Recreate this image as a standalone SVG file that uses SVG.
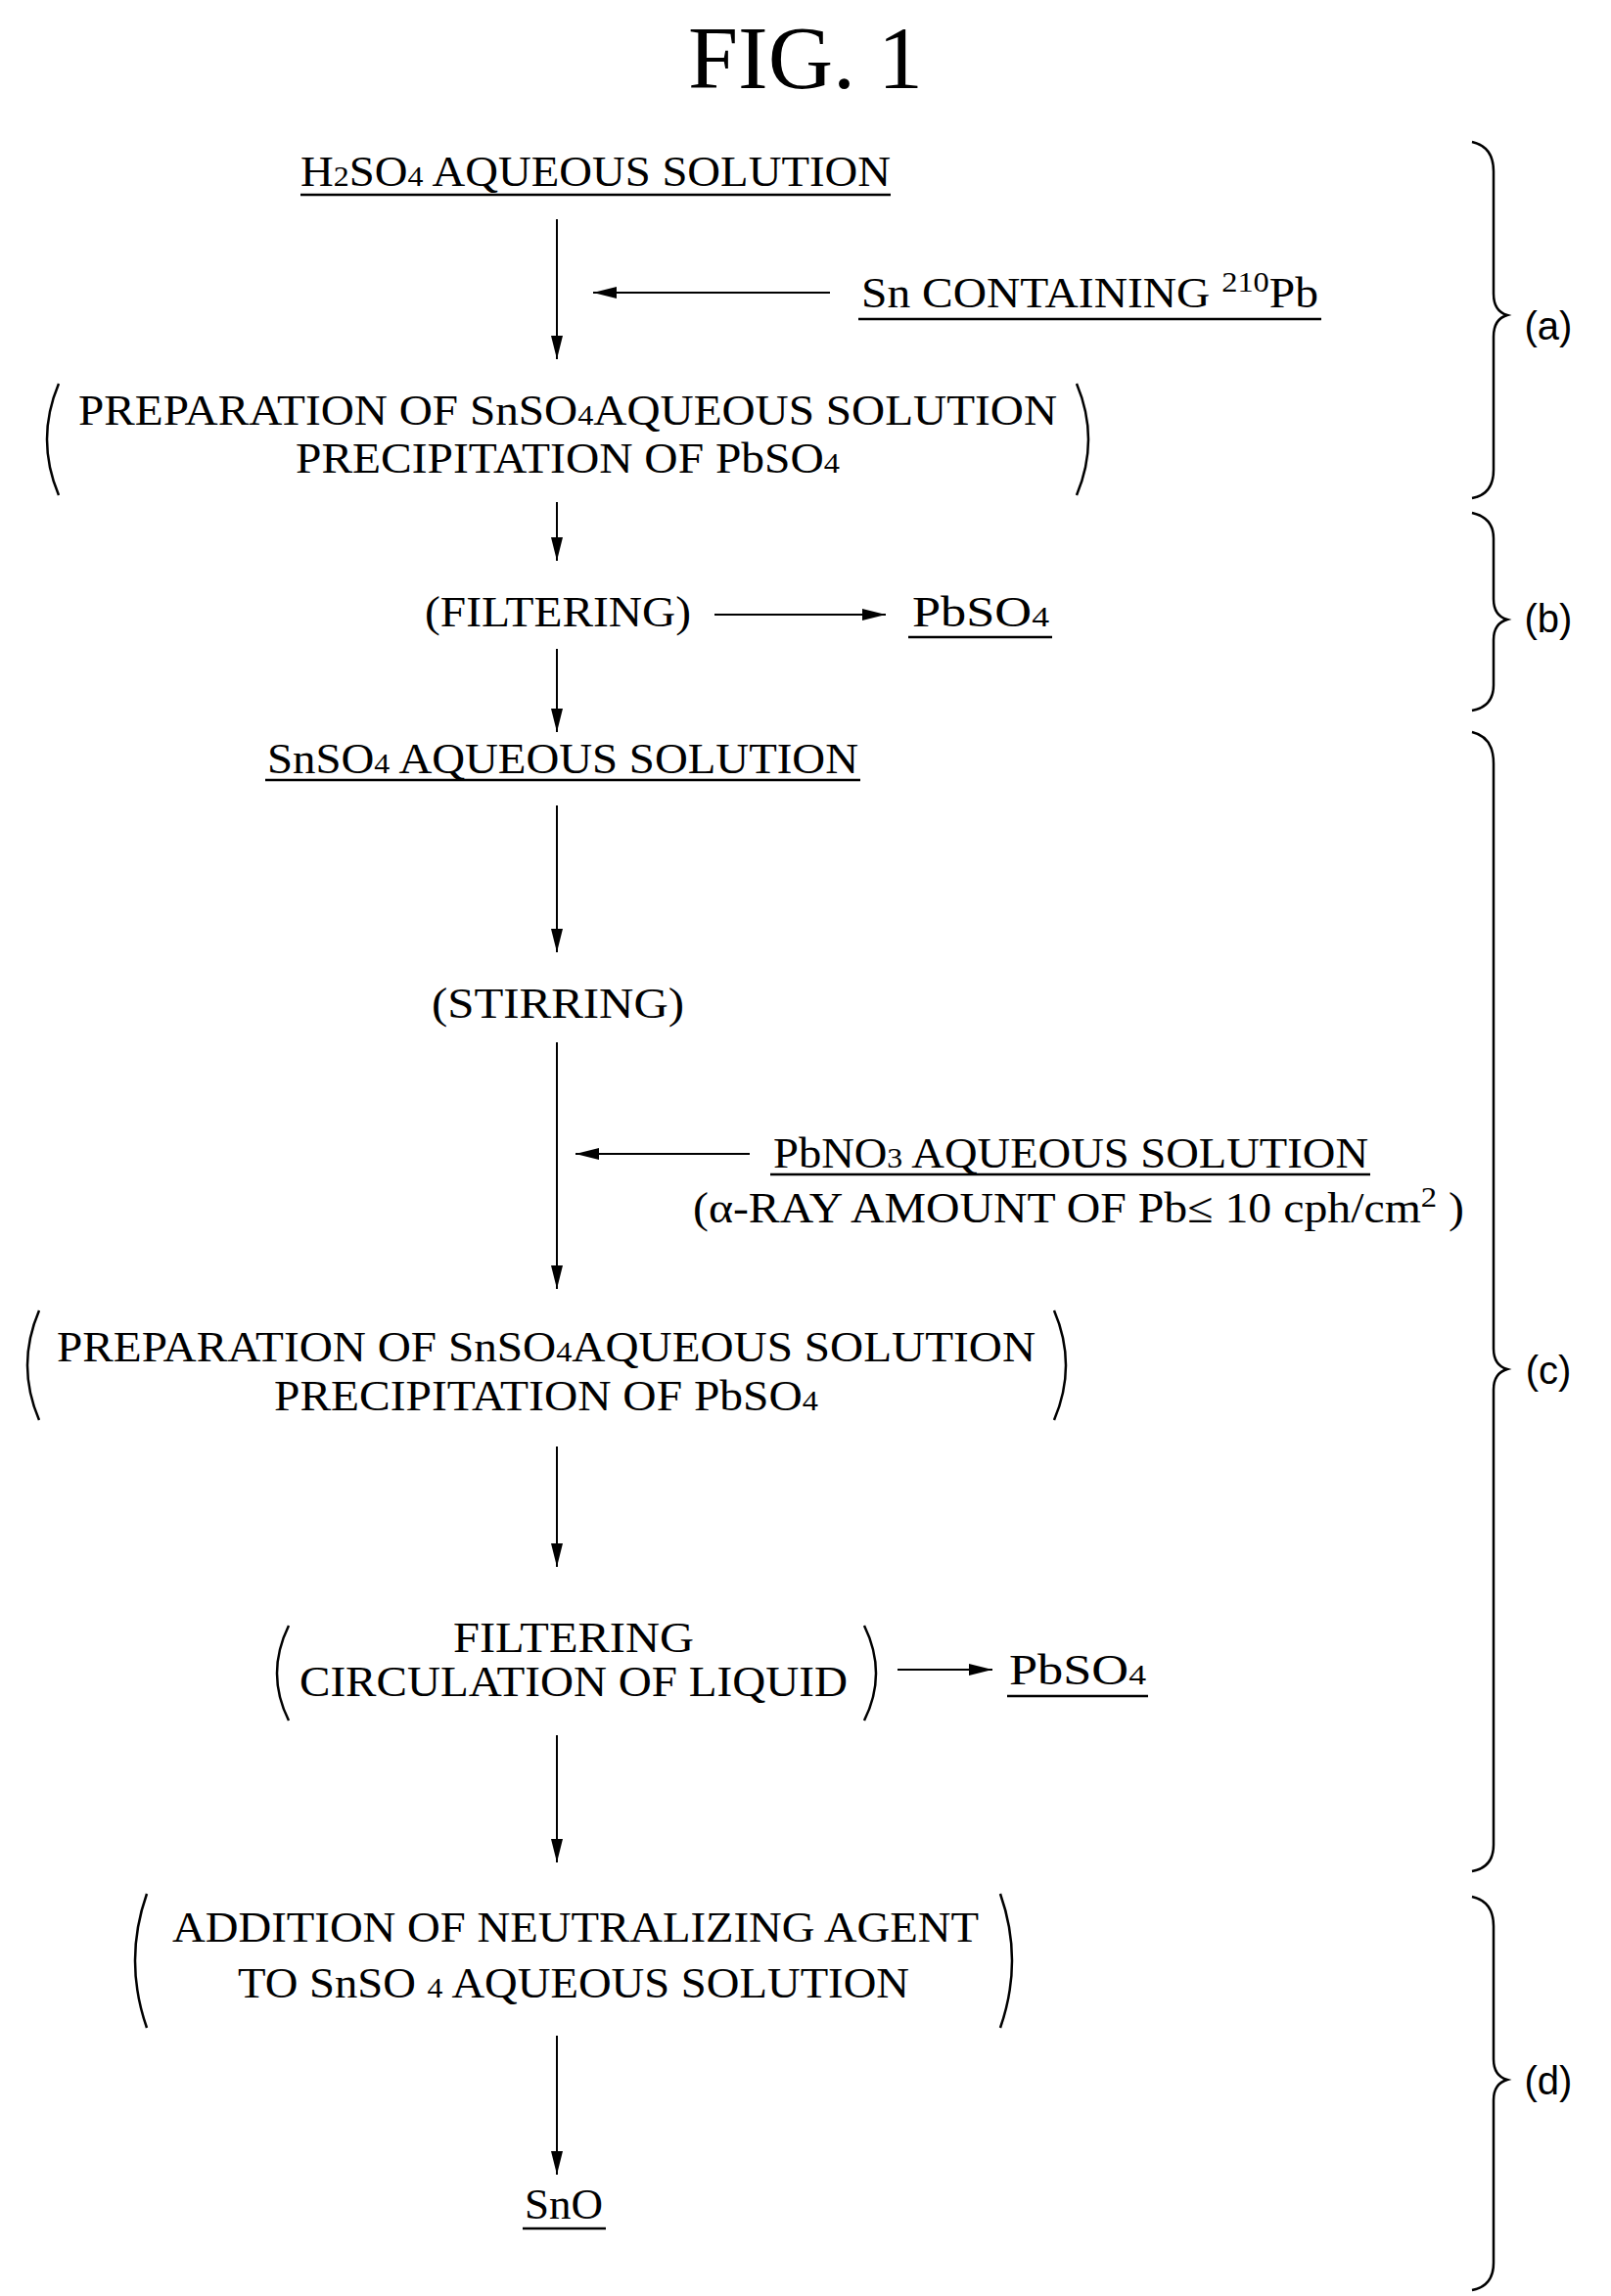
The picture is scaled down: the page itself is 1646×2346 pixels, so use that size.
<svg xmlns="http://www.w3.org/2000/svg" width="1646" height="2346" viewBox="0 0 1646 2346">
<style>
text{font-family:"Liberation Serif",serif;fill:#000}
.t{font-size:44px}
.s{font-family:"Liberation Sans",sans-serif;font-size:40px}
.ln{stroke:#000;stroke-width:2;fill:none}
.u{stroke:#000;stroke-width:2.5}
.p{stroke:#000;stroke-width:2.5;fill:none}
</style>
<defs>
<marker id="ah" viewBox="0 0 24 12" refX="24" refY="6" markerWidth="24" markerHeight="12" markerUnits="userSpaceOnUse" orient="auto"><path d="M0,0L24,6L0,12z" fill="#000"/></marker>
</defs>
<rect width="1646" height="2346" fill="#fff"/>
<text x="823" y="90" font-size="92" text-anchor="middle" textLength="240" lengthAdjust="spacingAndGlyphs">FIG. 1</text>

<g id="n1"><text class="t" x="307" y="190" textLength="603" lengthAdjust="spacingAndGlyphs">H<tspan font-size="30">2</tspan>SO<tspan font-size="30">4</tspan> AQUEOUS SOLUTION</text><line class="u" x1="307" y1="199" x2="910" y2="199"/></g>
<g id="n2"><text class="t" x="880" y="314" textLength="467" lengthAdjust="spacingAndGlyphs">Sn CONTAINING <tspan font-size="30" dy="-16">210</tspan><tspan dy="16">Pb</tspan></text><line class="u" x1="877" y1="326" x2="1350" y2="326"/></g>
<g id="n3"><text class="t" x="580" y="434" text-anchor="middle" textLength="1000" lengthAdjust="spacingAndGlyphs">PREPARATION OF SnSO<tspan font-size="30">4</tspan>AQUEOUS SOLUTION</text><text class="t" x="580" y="483" text-anchor="middle" textLength="556" lengthAdjust="spacingAndGlyphs">PRECIPITATION OF PbSO<tspan font-size="30">4</tspan></text><path class="p" d="M60,392Q36,449 60,506M1100,392Q1124,449 1100,506"/></g>
<g id="n4"><text class="t" x="570" y="640" text-anchor="middle" textLength="272" lengthAdjust="spacingAndGlyphs">(FILTERING)</text></g>
<g id="n5"><text class="t" x="932" y="640" textLength="140" lengthAdjust="spacingAndGlyphs">PbSO<tspan font-size="30">4</tspan></text><line class="u" x1="928" y1="651" x2="1075" y2="651"/></g>
<g id="n6"><text class="t" x="273" y="790" textLength="604" lengthAdjust="spacingAndGlyphs">SnSO<tspan font-size="30">4</tspan> AQUEOUS SOLUTION</text><line class="u" x1="271" y1="797" x2="879" y2="797"/></g>
<g id="n7"><text class="t" x="570" y="1040" text-anchor="middle" textLength="258" lengthAdjust="spacingAndGlyphs">(STIRRING)</text></g>
<g id="n8"><text class="t" x="790" y="1193" textLength="608" lengthAdjust="spacingAndGlyphs">PbNO<tspan font-size="30">3</tspan> AQUEOUS SOLUTION</text><line class="u" x1="787" y1="1200" x2="1400" y2="1200"/><text class="t" x="708" y="1249" textLength="788" lengthAdjust="spacingAndGlyphs">(α-RAY AMOUNT OF Pb≤ 10 cph/cm<tspan font-size="30" dy="-16">2</tspan><tspan dy="16"> )</tspan></text></g>
<g id="n9"><text class="t" x="558" y="1391" text-anchor="middle" textLength="1000" lengthAdjust="spacingAndGlyphs">PREPARATION OF SnSO<tspan font-size="30">4</tspan>AQUEOUS SOLUTION</text><text class="t" x="558" y="1441" text-anchor="middle" textLength="556" lengthAdjust="spacingAndGlyphs">PRECIPITATION OF PbSO<tspan font-size="30">4</tspan></text><path class="p" d="M40,1339Q16,1395 40,1451M1077,1339Q1101,1395 1077,1451"/></g>
<g id="n10"><text class="t" x="586" y="1688" text-anchor="middle" textLength="246" lengthAdjust="spacingAndGlyphs">FILTERING</text><text class="t" x="586" y="1733" text-anchor="middle" textLength="560" lengthAdjust="spacingAndGlyphs">CIRCULATION OF LIQUID</text><path class="p" d="M295,1661Q271,1710 295,1758M883,1661Q907,1710 883,1758"/></g>
<g id="n11"><text class="t" x="1031" y="1721" textLength="140" lengthAdjust="spacingAndGlyphs">PbSO<tspan font-size="30">4</tspan></text><line class="u" x1="1029" y1="1733" x2="1173" y2="1733"/></g>
<g id="n12"><text class="t" x="588" y="1984" text-anchor="middle" textLength="824" lengthAdjust="spacingAndGlyphs">ADDITION OF NEUTRALIZING AGENT</text><text class="t" x="586" y="2041" text-anchor="middle" textLength="686" lengthAdjust="spacingAndGlyphs">TO SnSO <tspan font-size="30">4</tspan> AQUEOUS SOLUTION</text><path class="p" d="M150,1935Q126,2003 150,2072M1022,1935Q1046,2003 1022,2072"/></g>
<g id="n13"><text class="t" x="536" y="2267" textLength="80" lengthAdjust="spacingAndGlyphs">SnO</text><line class="u" x1="534" y1="2277" x2="619" y2="2277"/></g>

<g id="braces">
<path class="p" d="M1504,145Q1526,150 1526,175L1526,300Q1526,318 1540,322Q1526,326 1526,344L1526,480Q1526,505 1504,509"/>
<text class="s" x="1582" y="347" text-anchor="middle">(a)</text>
<path class="p" d="M1504,524Q1526,529 1526,550L1526,612Q1526,629 1540,633Q1526,637 1526,654L1526,700Q1526,722 1504,726"/>
<text class="s" x="1582" y="646" text-anchor="middle">(b)</text>
<path class="p" d="M1504,748Q1526,753 1526,780L1526,1378Q1526,1395 1540,1399Q1526,1403 1526,1420L1526,1885Q1526,1908 1504,1912"/>
<text class="s" x="1582" y="1414" text-anchor="middle">(c)</text>
<path class="p" d="M1504,1938Q1526,1943 1526,1968L1526,2104Q1526,2121 1540,2125Q1526,2129 1526,2146L1526,2312Q1526,2336 1504,2340"/>
<text class="s" x="1582" y="2140" text-anchor="middle">(d)</text>
</g>

<g id="connectors" class="ln" marker-end="url(#ah)">
<line x1="569" y1="224" x2="569" y2="367"/>
<line x1="848" y1="299" x2="606" y2="299"/>
<line x1="569" y1="513" x2="569" y2="573"/>
<line x1="730" y1="628" x2="905" y2="628"/>
<line x1="569" y1="663" x2="569" y2="748"/>
<line x1="569" y1="823" x2="569" y2="973"/>
<line x1="569" y1="1065" x2="569" y2="1317"/>
<line x1="766" y1="1179" x2="588" y2="1179"/>
<line x1="569" y1="1478" x2="569" y2="1601"/>
<line x1="917" y1="1706" x2="1014" y2="1706"/>
<line x1="569" y1="1773" x2="569" y2="1903"/>
<line x1="569" y1="2080" x2="569" y2="2222"/>
</g>
</svg>
